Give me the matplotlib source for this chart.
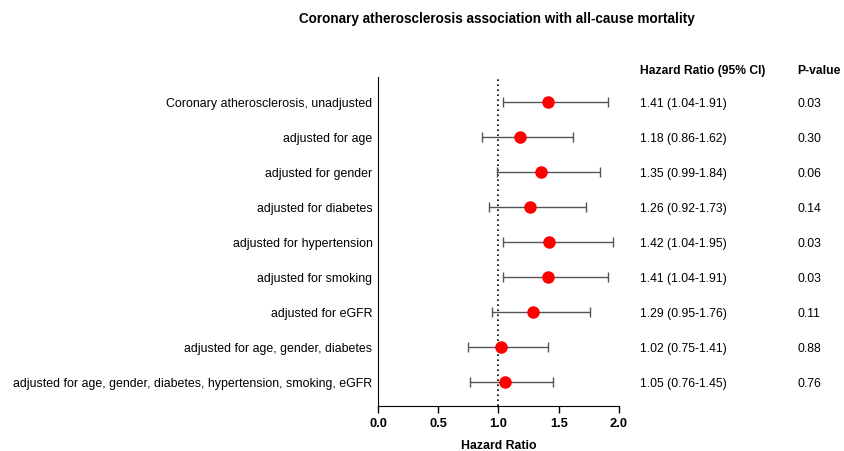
import matplotlib.pyplot as plt

plt.rcParams['font.family'] = ['Liberation Sans', 'DejaVu Sans']

labels = [
    "Coronary atherosclerosis, unadjusted",
    "adjusted for age",
    "adjusted for gender",
    "adjusted for diabetes",
    "adjusted for hypertension",
    "adjusted for smoking",
    "adjusted for eGFR",
    "adjusted for age, gender, diabetes",
    "adjusted for age, gender, diabetes, hypertension, smoking, eGFR",
]
hr = [1.41, 1.18, 1.35, 1.26, 1.42, 1.41, 1.29, 1.02, 1.05]
lo = [1.04, 0.86, 0.99, 0.92, 1.04, 1.04, 0.95, 0.75, 0.76]
hi = [1.91, 1.62, 1.84, 1.73, 1.95, 1.91, 1.76, 1.41, 1.45]
pvals = ["0.03", "0.30", "0.06", "0.14", "0.03", "0.03", "0.11", "0.88", "0.76"]

fig = plt.figure(figsize=(8.45, 4.52), dpi=100)
ax = fig.add_axes([378 / 845, 1 - 407 / 452, 241 / 845, 329 / 452])

ys = list(range(len(labels)))
err = [[h - l for h, l in zip(hr, lo)], [u - h for h, u in zip(hr, hi)]]
ax.errorbar(hr, ys, xerr=err, fmt='none', ecolor='#555555', elinewidth=1,
            capsize=3.7, capthick=1, zorder=2)
ax.plot(hr, ys, 'o', color='#ff0000', markersize=8, zorder=3)
ax.axvline(1.0, color='black', linestyle=(0, (1, 2)), linewidth=1.2, zorder=1)

ax.set_xlim(0, 2.0)
ax.set_ylim(len(labels) - 0.3, -0.7)
ax.set_xticks([0, 0.5, 1.0, 1.5, 2.0])
ax.set_xticklabels(["0.0", "0.5", "1.0", "1.5", "2.0"], fontweight='bold', fontsize=9.3)
ax.set_yticks(ys)
ax.set_yticklabels(labels, fontsize=8.9)
ax.tick_params(axis='y', length=0, pad=4)
ax.tick_params(axis='x', length=5, width=1, pad=3)
ax.spines['top'].set_visible(False)
ax.spines['right'].set_visible(False)
ax.set_xlabel("Hazard Ratio", fontweight='bold', fontsize=8.8, labelpad=7)

# table columns (baseline a bit below the row centre)
fig.text(640 / 845, 1 - 74.5 / 452, "Hazard Ratio (95% CI)", fontweight='bold',
         fontsize=8.7, ha='left', va='baseline')
fig.text(797 / 845, 1 - 74.5 / 452, "P-value", fontweight='bold',
         fontsize=8.7, ha='left', va='baseline')
for y, h, l, u, p in zip(ys, hr, lo, hi, pvals):
    yf = ax.transData.transform((0, y))[1]
    yf = fig.transFigure.inverted().transform((0, yf))[1]
    fig.text(640 / 845, yf, f"{h:.2f} ({l:.2f}-{u:.2f})", fontsize=8.7,
             ha='left', va='center_baseline')
    fig.text(798 / 845, yf, p, fontsize=8.7, ha='left', va='center_baseline')

fig.text(497 / 845, 1 - 18 / 452, "Coronary atherosclerosis association with all-cause mortality",
         fontweight='bold', fontsize=9.75, ha='center', va='center_baseline')

fig.savefig("out.png", dpi=100)
